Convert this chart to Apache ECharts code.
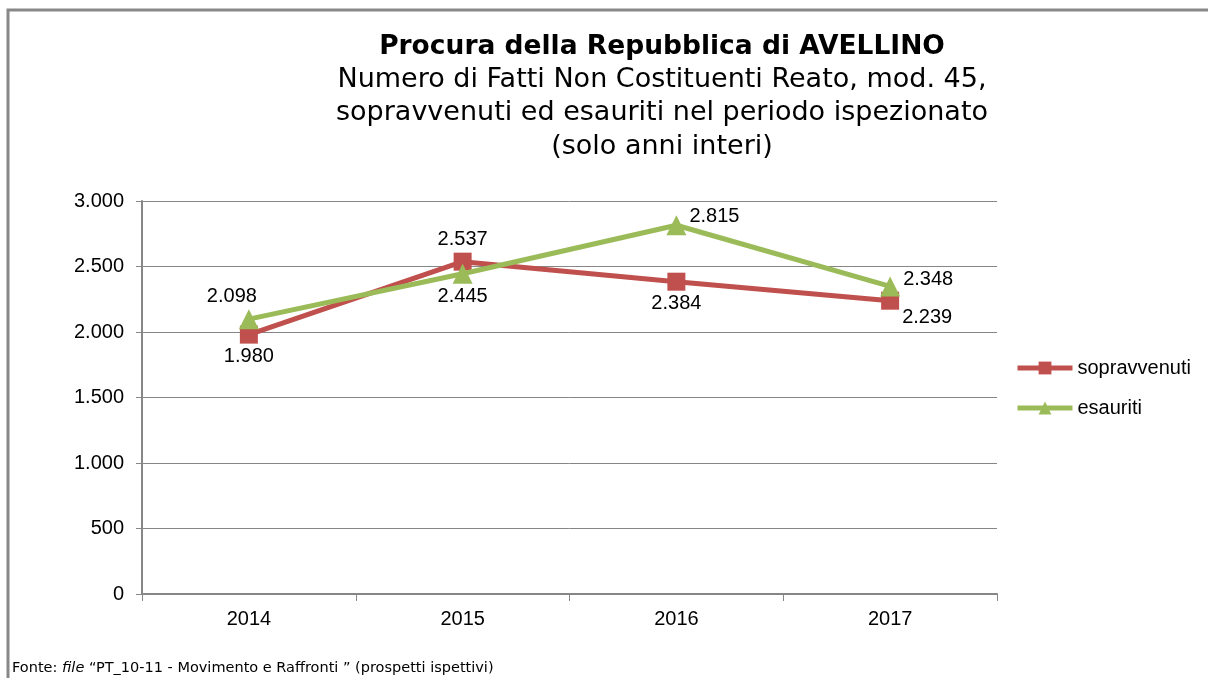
<!DOCTYPE html>
<html>
<head>
<meta charset="utf-8">
<script src="https://cdn.jsdelivr.net/npm/echarts@6/dist/echarts.min.js"></script>
<style>
  html, body { margin: 0; padding: 0; background: #fff; }
  #main { width: 1208px; height: 678px; }
</style>
</head>
<body>
<div id="main"></div>
<script>
// chart data
const years = ["2014", "2015", "2016", "2017"];
const sopravvenuti = [1980, 2537, 2384, 2239];
const esauriti = [2098, 2445, 2815, 2348];
const yTicks = [0, 500, 1000, 1500, 2000, 2500, 3000];

// label placement per point (style only)
const sopLabelPos = [
  { position: "bottom", offset: [0, 0] },
  { position: "top", offset: [0, 0] },
  { position: "bottom", offset: [0, 0] },
  { position: "right", offset: [0, 17] },
];
const esaLabelPos = [
  { position: "top", offset: [-17, 0] },
  { position: "bottom", offset: [0, 0] },
  { position: "right", offset: [0, -9] },
  { position: "right", offset: [0, -7] },
];

function fmt(v) {
  return String(v).replace(/\B(?=(\d{3})+(?!\d))/g, ".");
}

const labelFont = {
  fontFamily: "Liberation Sans",
  fontSize: 20,
  color: "#000",
};

function buildData(values, pos) {
  return values.map(function (v, i) {
    return {
      value: v,
      label: Object.assign({ show: true, distance: 3 }, pos[i]),
    };
  });
}

var myChart = echarts.init(document.getElementById("main"));
var option = {
  animation: false,
  title: {
    left: 657,
    top: 27,
    textAlign: "center",
    text: "{b|Procura della Repubblica di AVELLIN}{n|O}",
    textStyle: {
      rich: {
        b: {
          fontFamily: "DejaVu Sans",
          fontWeight: "bold",
          fontSize: 26.5,
          color: "#000",
          lineHeight: 30,
        },
        n: {
          fontFamily: "DejaVu Sans",
          fontSize: 26.5,
          color: "#000",
          lineHeight: 30,
        },
      },
    },
    subtext:
      "Numero di Fatti Non Costituenti Reato, mod. 45,\nsopravvenuti ed esauriti nel periodo ispezionato\n(solo anni interi)",
    subtextStyle: {
      fontFamily: "DejaVu Sans",
      fontSize: 27,
      color: "#000",
      lineHeight: 33.5,
      align: "center",
    },
    itemGap: 4,
  },
  legend: {
    orient: "vertical",
    left: 1010,
    top: 353,
    itemWidth: 55,
    itemHeight: 16,
    itemGap: 20,
    lineStyle: { width: 5 },
    textStyle: {
      fontFamily: "Liberation Sans",
      fontSize: 20,
      color: "#000",
    },
    data: ["sopravvenuti", "esauriti"],
  },
  graphic: [
    {
      type: "rect",
      shape: { x: 8, y: 10, width: 1400, height: 900 },
      style: { fill: "none", stroke: "#888", lineWidth: 3 },
      silent: true,
    },
    {
      type: "text",
      left: 12,
      top: 661,
      style: {
        text: "{n|Fonte: }{i|file}{n| “PT_10-11 - Movimento e Raffronti ” (prospetti ispettivi)}",
        rich: {
          n: { fontFamily: "DejaVu Sans", fontSize: 14.5, fill: "#000" },
          i: { fontFamily: "DejaVu Sans", fontStyle: "italic", fontSize: 14.5, fill: "#000" },
        },
      },
    },
  ],
  grid: {
    left: 142,
    right: 211,
    top: 201,
    bottom: 84,
  },
  xAxis: {
    type: "category",
    data: years,
    boundaryGap: true,
    axisLine: { lineStyle: { color: "#868686", width: 2 } },
    axisTick: { show: true, length: 7, lineStyle: { color: "#868686", width: 1 } },
    axisLabel: {
      margin: 15,
      fontFamily: "Liberation Sans",
      fontSize: 20,
      color: "#000",
    },
  },
  yAxis: {
    type: "value",
    min: yTicks[0],
    max: yTicks[yTicks.length - 1],
    interval: 500,
    axisLine: { show: true, lineStyle: { color: "#868686", width: 2 } },
    axisTick: { show: true, length: 6, lineStyle: { color: "#868686", width: 1 } },
    splitLine: { lineStyle: { color: "#868686", width: 1 } },
    axisLabel: {
      margin: 18,
      fontFamily: "Liberation Sans",
      fontSize: 20,
      color: "#000",
      formatter: fmt,
    },
  },
  series: [
    {
      name: "sopravvenuti",
      type: "line",
      data: buildData(sopravvenuti, sopLabelPos),
      symbol: "rect",
      symbolSize: 18,
      lineStyle: { width: 5, color: "#C0504D" },
      itemStyle: { color: "#C0504D" },
      label: Object.assign({ formatter: function (p) { return fmt(p.value); } }, labelFont),
      z: 2,
    },
    {
      name: "esauriti",
      type: "line",
      data: buildData(esauriti, esaLabelPos),
      symbol: "triangle",
      symbolSize: 20,
      lineStyle: { width: 5, color: "#9BBB59" },
      itemStyle: { color: "#9BBB59" },
      label: Object.assign({ formatter: function (p) { return fmt(p.value); } }, labelFont),
      z: 3,
    },
  ],
};

option && myChart.setOption(option);
</script>
</body>
</html>
